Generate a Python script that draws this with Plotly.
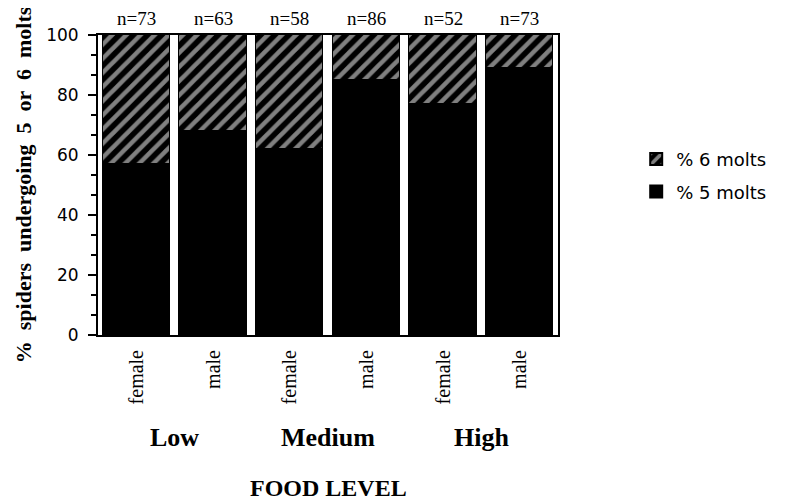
import plotly.graph_objects as go

# ---- data ----
sex_labels = ["female", "male", "female", "male", "female", "male"]
food_levels = ["Low", "Medium", "High"]
pct_5_molts = [57, 68, 62, 85, 77, 89]
pct_6_molts = [100 - v for v in pct_5_molts]
n_labels = ["n=73", "n=63", "n=58", "n=86", "n=52", "n=73"]
y_ticks = [0, 20, 40, 60, 80, 100]

x_pos = list(range(len(sex_labels)))
serif = "Liberation Serif, Times New Roman, serif"
sans = "DejaVu Sans, Verdana, sans-serif"

fig = go.Figure()
fig.add_trace(go.Bar(
    x=x_pos, y=pct_5_molts, name="% 5 molts", width=0.88, legendgroup="g5",
    legendrank=2,
    marker=dict(color="black", line=dict(color="black", width=1)),
))
fig.add_trace(go.Bar(
    x=x_pos, y=pct_6_molts, name="% 6 molts", width=0.88, legendgroup="g6",
    legendrank=1,
    marker=dict(color="black", line=dict(color="black", width=1),
                pattern=dict(shape="/", bgcolor="black", fgcolor="white",
                             size=10, solidity=0.45)),
))

annotations = []
for xi, lab in zip(x_pos, n_labels):
    annotations.append(dict(x=xi, y=100, xref="x", yref="y", text=lab,
                            showarrow=False, yanchor="bottom", yshift=4,
                            font=dict(family=serif, size=19, color="black")))
for gi, g in enumerate(food_levels):
    annotations.append(dict(x=2 * gi + 0.5, y=-0.34, xref="x", yref="paper",
                            text="<b>%s</b>" % g, showarrow=False,
                            yanchor="middle",
                            font=dict(family=serif, size=26, color="black")))
annotations.append(dict(x=0.5, y=-0.51, xref="paper", yref="paper",
                        text="<b>FOOD LEVEL</b>", showarrow=False,
                        yanchor="middle",
                        font=dict(family=serif, size=24, color="black")))

fig.update_layout(
    width=779, height=495,
    barmode="stack",
    bargap=0,
    plot_bgcolor="white", paper_bgcolor="white",
    margin=dict(l=90, r=229, t=27, b=168),
    showlegend=True,
    legend=dict(x=1.17, y=0.647, xanchor="left", yanchor="top",
                traceorder="grouped", tracegroupgap=6,
                font=dict(family=sans, size=18, color="black"),
                bgcolor="rgba(0,0,0,0)", itemsizing="constant"),
    annotations=annotations,
    xaxis=dict(range=[-0.5, 5.5], tickvals=x_pos, ticktext=sex_labels,
               tickangle=-90, ticks="", showline=True, linecolor="black",
               linewidth=2, mirror=True, showgrid=False, zeroline=False,
               ticklabelstandoff=5,
               tickfont=dict(family=serif, size=20, color="black")),
    yaxis=dict(range=[0, 100], tickvals=y_ticks, ticks="outside", ticklen=8,
               tickwidth=2, tickcolor="black",
               showline=True, linecolor="black", linewidth=2, mirror=True,
               showgrid=False, zeroline=False, ticklabelstandoff=6,
               minor=dict(dtick=20 / 3, ticks="outside", ticklen=5,
                          tickwidth=2, tickcolor="black", showgrid=False),
               tickfont=dict(family=sans, size=17, color="black"),
               title=dict(text="<b>%  spiders  undergoing  5  or  6  molts</b>",
                          standoff=8,
                          font=dict(family=serif, size=22, color="black"))),
)

fig.write_html("out.html")
